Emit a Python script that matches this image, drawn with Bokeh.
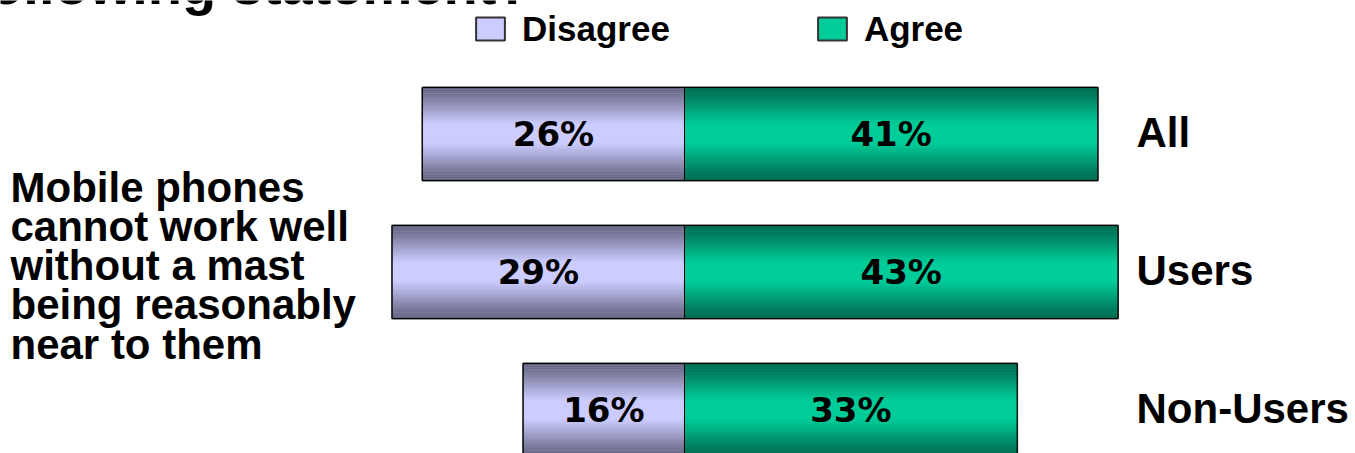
from bokeh.plotting import figure
from bokeh.models import ColumnDataSource, Range1d, Legend, LegendItem
from bokeh.core.properties import value
from bokeh.embed import file_html
from bokeh.resources import INLINE

# ---------------- data ----------------
groups = ["All", "Users", "Non-Users"]
disagree = [26, 29, 16]
agree = [41, 43, 33]
series_names = ["Disagree", "Agree"]
statement = "Mobile phones\ncannot work well\nwithout a mast\nbeing reasonably\nnear to them"
title_text = "following statement?"

# ---------------- styles ----------------
FONT = "Liberation Sans"
light_d, dark_d = (204, 204, 255), (94, 94, 122)
light_a, dark_a = (0, 204, 153), (0, 100, 76)
BAR_H = 0.674
N_STRIPS = 48

W, H = 1355, 453
PX_PER_PCT = 10.08
CENTER_PX = 684
x0 = -CENTER_PX / PX_PER_PCT
x1 = (W - CENTER_PX) / PX_PER_PCT
UNIT = 138.0
y_end = 2 + 133.5 / UNIT
y_start = y_end - H / UNIT

def px_to_x(px):
    return (px - CENTER_PX) / PX_PER_PCT

ypos = [len(groups) - 1 - i for i in range(len(groups))]

p = figure(width=W, height=H, output_backend="svg", toolbar_location=None,
           x_range=Range1d(x0, x1), y_range=Range1d(y_start, y_end),
           min_border=0, min_border_left=0, min_border_right=0,
           min_border_top=0, min_border_bottom=0)
p.xaxis.visible = False
p.yaxis.visible = False
p.grid.visible = False
p.outline_line_color = None
p.background_fill_color = "white"
p.border_fill_color = "white"

def mix(c1, c2, f):
    return "#%02x%02x%02x" % tuple(int(round(a + (b - a) * f)) for a, b in zip(c1, c2))

# base bars (used by the legend too)
base_src_d = ColumnDataSource(dict(y=ypos, left=[-v for v in disagree], right=[0] * len(disagree)))
base_src_a = ColumnDataSource(dict(y=ypos, left=[0] * len(agree), right=agree))
base_d = p.hbar(y="y", left="left", right="right", height=BAR_H, source=base_src_d,
                fill_color=mix(light_d, light_d, 0), line_color="#333333", line_width=2)
base_a = p.hbar(y="y", left="left", right="right", height=BAR_H, source=base_src_a,
                fill_color=mix(light_a, light_a, 0), line_color="#333333", line_width=2)

# gradient strips
strip = dict(y=[], left=[], right=[], color=[])
for vals, sign, light, dark in [(disagree, -1, light_d, dark_d), (agree, 1, light_a, dark_a)]:
    for yc, v in zip(ypos, vals):
        for k in range(N_STRIPS):
            t = (k + 0.5) / N_STRIPS
            f = min(1.0, (1 - abs(2 * t - 1)) / 0.8)
            strip["y"].append(yc + BAR_H / 2 - (k + 0.5) * BAR_H / N_STRIPS)
            strip["left"].append(min(0, sign * v))
            strip["right"].append(max(0, sign * v))
            strip["color"].append(mix(dark, light, f))
p.hbar(y="y", left="left", right="right", height=BAR_H / N_STRIPS * 1.15,
       source=ColumnDataSource(strip), fill_color="color", line_color=None)

# outlines
p.hbar(y="y", left="left", right="right", height=BAR_H, source=base_src_d,
       fill_color=None, line_color="black", line_width=1)
p.hbar(y="y", left="left", right="right", height=BAR_H, source=base_src_a,
       fill_color=None, line_color="black", line_width=1)

# percentage labels
lab = dict(x=[-v / 2 for v in disagree] + [v / 2 for v in agree],
           y=ypos + ypos,
           t=[f"{v}%" for v in disagree] + [f"{v}%" for v in agree])
p.text(x="x", y="y", text="t", source=ColumnDataSource(lab),
       text_font=value("DejaVu Sans"), text_font_style="bold", text_font_size="34px",
       text_align="center", text_baseline="middle", text_color="black")

# group labels on the right
p.text(x=[px_to_x(1136)] * len(groups), y=ypos, text=groups,
       text_font=value(FONT), text_font_style="bold", text_font_size="42px",
       text_align="left", text_baseline="middle", y_offset=-2, text_color="black")

# statement on the left
p.text(x=[px_to_x(10)], y=[sum(ypos) / len(ypos)], text=[statement],
       text_font=value(FONT), text_font_style="bold", text_font_size="42px",
       text_align="left", text_baseline="middle", text_line_height=0.83,
       y_offset=-6, text_color="black")

# cut-off title at the top
p.text(x=[px_to_x(530)], y=[y_end + 1 / UNIT], text=[title_text],
       text_font=value(FONT), text_font_style="bold", text_font_size="56px",
       text_align="right", text_baseline="alphabetic", y_offset=-15, text_color="black")

LEG_H = 44
legend = Legend(items=[LegendItem(label=series_names[0], renderers=[base_d]),
                       LegendItem(label=series_names[1], renderers=[base_a])],
                orientation="horizontal", location=(472, H - 6.5 - LEG_H),
                glyph_width=36, glyph_height=29, label_standoff=14, spacing=144,
                padding=0, margin=0, border_line_color=None, background_fill_alpha=0,
                label_text_font=FONT, label_text_font_style="bold",
                label_text_font_size="35px", label_height=LEG_H,
                label_text_color="black")
p.add_layout(legend)

open("out.html", "w").write(file_html(p, INLINE))
